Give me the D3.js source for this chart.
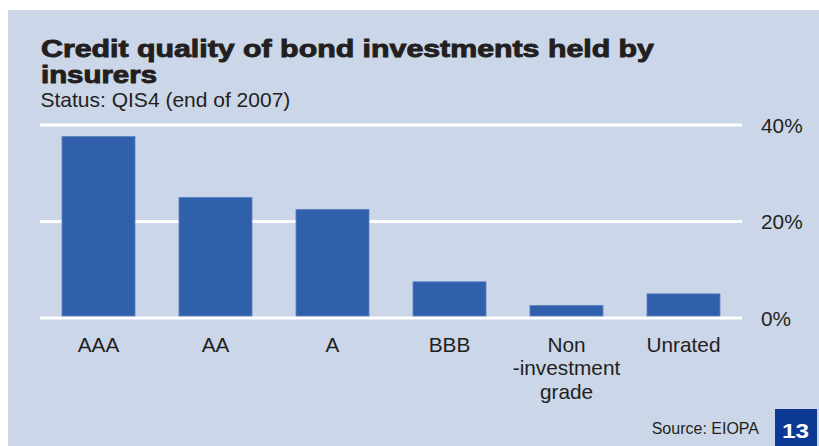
<!DOCTYPE html>
<html>
<head>
<meta charset="utf-8">
<script src="https://cdn.jsdelivr.net/npm/d3@7"></script>
<style>
  html, body { margin: 0; padding: 0; background: #ffffff; }
  svg { display: block; }
  text { font-family: "Liberation Sans", Arial, sans-serif; fill: #231f20; }
</style>
</head>
<body>
<svg id="chart" width="819" height="446"></svg>
<script>
// Share of bond holdings by rating class (%)
const categories = ["AAA", "AA", "A", "BBB", "Non\n-investment\ngrade", "Unrated"];
const values = [37.5, 24.9, 22.4, 7.4, 2.5, 4.9];
const yTicks = [0, 20, 40];
const tickLabels = ["0%", "20%", "40%"];

const titleLines = ["Credit quality of bond investments held by", "insurers"];
const subtitle = "Status: QIS4 (end of 2007)";
const source = "Source: EIOPA";
const pageNumber = "13";

const svg = d3.select("#chart");

// background panel
svg.append("rect")
  .attr("x", 8).attr("y", 10)
  .attr("width", 811).attr("height", 436)
  .attr("fill", "#cbd6e8");

// titles
const title = svg.append("g");
title.append("text")
  .attr("x", 41).attr("y", 57)
  .attr("font-size", 23.5).attr("font-weight", "bold")
  .attr("stroke", "#231f20").attr("stroke-width", 0.9)
  .attr("textLength", 613).attr("lengthAdjust", "spacingAndGlyphs")
  .text(titleLines[0]);
title.append("text")
  .attr("x", 41).attr("y", 82.5)
  .attr("font-size", 23.5).attr("font-weight", "bold")
  .attr("stroke", "#231f20").attr("stroke-width", 0.9)
  .attr("textLength", 116).attr("lengthAdjust", "spacingAndGlyphs")
  .text(titleLines[1]);
svg.append("text")
  .attr("x", 40.5).attr("y", 107)
  .attr("font-size", 21)
  .text(subtitle);

// scales
const x = d3.scaleBand()
  .domain(categories)
  .range([40, 742])
  .paddingInner(0.376)
  .paddingOuter(0.188);

const y = d3.scaleLinear()
  .domain([0, 40])
  .range([317.5, 124.5]);

// right-hand value axis with full-width gridlines (behind the bars)
const yAxis = d3.axisRight(y)
  .tickValues(yTicks)
  .tickFormat((d, i) => tickLabels[i])
  .tickSize(-(742 - 40))
  .tickPadding(19);

const ya = svg.append("g")
  .attr("transform", "translate(742,0)")
  .call(yAxis);
ya.select(".domain").remove();
ya.selectAll(".tick line")
  .attr("stroke", "#ffffff")
  .attr("stroke-width", 3);
ya.selectAll(".tick text")
  .attr("font-family", "'Liberation Sans', Arial, sans-serif")
  .attr("font-size", 20.8)
  .attr("fill", "#231f20")
  .attr("dy", "0.37em");

// bars, resting on top of the white baseline
svg.append("g")
  .selectAll("rect")
  .data(categories)
  .join("rect")
  .attr("x", d => x(d))
  .attr("width", x.bandwidth())
  .attr("y", (d, i) => y(values[i]))
  .attr("height", (d, i) => y(0) - 1.5 - y(values[i]))
  .attr("fill", "#3060ab")
  .attr("stroke", "#5c82c0")
  .attr("stroke-width", 0.8);

// category labels (multi-line)
const xAxis = d3.axisBottom(x).tickSize(0).tickFormat("");
const xa = svg.append("g")
  .attr("transform", `translate(0,${y(0)})`)
  .call(xAxis);
xa.select(".domain").remove();
xa.selectAll(".tick").each(function (d) {
  const t = d3.select(this).append("text")
    .attr("text-anchor", "middle")
    .attr("font-family", "'Liberation Sans', Arial, sans-serif")
    .attr("font-size", 20.8)
    .attr("fill", "#231f20");
  d.split("\n").forEach((line, k) => {
    t.append("tspan")
      .attr("x", 0)
      .attr("y", 34.2 + k * 23.7)
      .text(line);
  });
});

// footer
svg.append("text")
  .attr("x", 759).attr("y", 434)
  .attr("text-anchor", "end")
  .attr("font-size", 16)
  .text(source);

svg.append("rect")
  .attr("x", 775).attr("y", 409)
  .attr("width", 42).attr("height", 37)
  .attr("fill", "#0c3993");
svg.append("text")
  .attr("x", 795.5).attr("y", 437.5)
  .attr("text-anchor", "middle")
  .attr("font-size", 21).attr("font-weight", "bold")
  .attr("textLength", 27).attr("lengthAdjust", "spacingAndGlyphs")
  .style("fill", "#ffffff")
  .text(pageNumber);
</script>
</body>
</html>
